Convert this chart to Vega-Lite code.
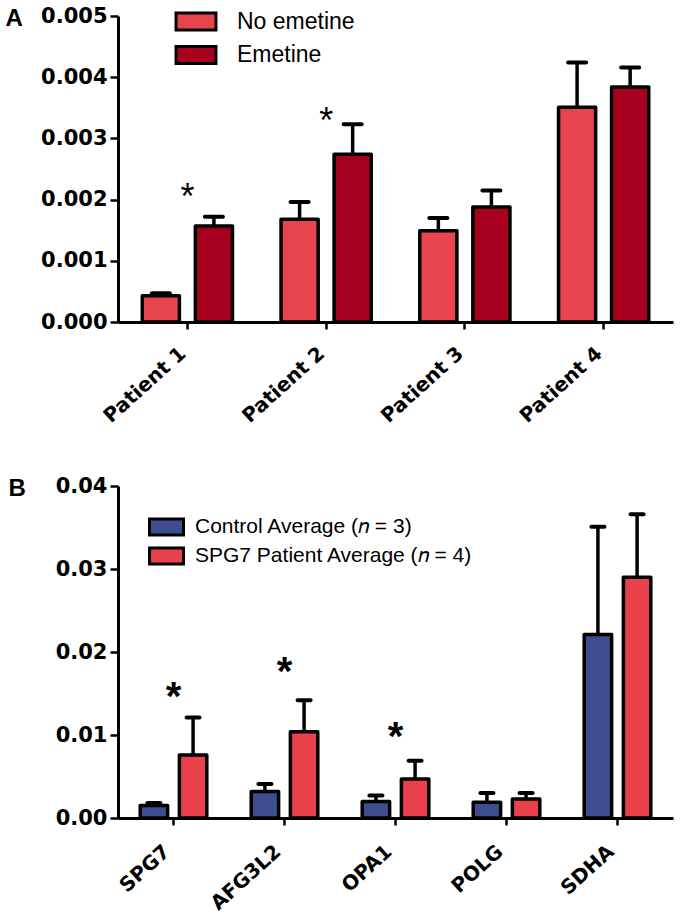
{
  "$schema": "https://vega.github.io/schema/vega-lite/v6.json",
  "padding": {"left": 5, "top": 5, "right": 5, "bottom": 5},
  "background": "white",
  "config": {
    "view": {"stroke": null},
    "axis": {"domainColor": "black", "domainWidth": 3, "tickColor": "black", "tickWidth": 2.5, "tickSize": 8, "labelFont": "DejaVu Sans", "labelFontWeight": "bold", "labelFontSize": 21, "labelColor": "black", "grid": false, "titleColor": "black"},
    "legend": {"title": null, "labelColor": "black", "labelFont": "Liberation Sans", "padding": 0, "labelLimit": 0, "symbolStrokeColor": "black", "symbolStrokeWidth": 3, "symbolOpacity": 1}
  },
  "datasets": {
    "a": [
      {"patient": "Patient 1", "treatment": "No emetine", "mean": 0.00043, "upper": 0.00047},
      {"patient": "Patient 1", "treatment": "Emetine", "mean": 0.00157, "upper": 0.00172},
      {"patient": "Patient 2", "treatment": "No emetine", "mean": 0.00168, "upper": 0.00196},
      {"patient": "Patient 2", "treatment": "Emetine", "mean": 0.00274, "upper": 0.00323},
      {"patient": "Patient 3", "treatment": "No emetine", "mean": 0.00149, "upper": 0.00170},
      {"patient": "Patient 3", "treatment": "Emetine", "mean": 0.00188, "upper": 0.00215},
      {"patient": "Patient 4", "treatment": "No emetine", "mean": 0.00351, "upper": 0.00424},
      {"patient": "Patient 4", "treatment": "Emetine", "mean": 0.00384, "upper": 0.00416}
    ],
    "astA": [
      {"patient": "Patient 1", "y": 0.00216, "mark": "*"},
      {"patient": "Patient 2", "y": 0.0034, "mark": "*"}
    ],
    "b": [
      {"gene": "SPG7", "group": "Control Average (𝑛 = 3)", "mean": 0.0015, "upper": 0.0018},
      {"gene": "SPG7", "group": "SPG7 Patient Average (𝑛 = 4)", "mean": 0.0076, "upper": 0.0121},
      {"gene": "AFG3L2", "group": "Control Average (𝑛 = 3)", "mean": 0.0032, "upper": 0.0041},
      {"gene": "AFG3L2", "group": "SPG7 Patient Average (𝑛 = 4)", "mean": 0.0104, "upper": 0.0142},
      {"gene": "OPA1", "group": "Control Average (𝑛 = 3)", "mean": 0.0020, "upper": 0.0027},
      {"gene": "OPA1", "group": "SPG7 Patient Average (𝑛 = 4)", "mean": 0.0047, "upper": 0.0069},
      {"gene": "POLG", "group": "Control Average (𝑛 = 3)", "mean": 0.0019, "upper": 0.0030},
      {"gene": "POLG", "group": "SPG7 Patient Average (𝑛 = 4)", "mean": 0.0023, "upper": 0.0030},
      {"gene": "SDHA", "group": "Control Average (𝑛 = 3)", "mean": 0.0221, "upper": 0.0351},
      {"gene": "SDHA", "group": "SPG7 Patient Average (𝑛 = 4)", "mean": 0.0290, "upper": 0.0366}
    ],
    "astB": [
      {"gene": "SPG7", "y": 0.0155, "mark": "*"},
      {"gene": "AFG3L2", "y": 0.0185, "mark": "*"},
      {"gene": "OPA1", "y": 0.0107, "mark": "*"}
    ]
  },
  "vconcat": [
    {
      "width": 555,
      "height": 306,
      "encoding": {
        "x": {"field": "patient", "type": "nominal", "sort": ["Patient 1", "Patient 2", "Patient 3", "Patient 4"],
              "scale": {"paddingInner": 0.35, "paddingOuter": 0.175},
              "axis": {"title": null, "labelAngle": -42, "labelAlign": "right", "labelBaseline": "top", "labelFontSize": 20, "tickSize": 7, "labelPadding": 14, "labelOffset": -11}}
      },
      "layer": [
        {
          "data": {"name": "a"},
          "mark": {"type": "rule", "color": "black", "strokeWidth": 3.5},
          "encoding": {
            "xOffset": {"field": "treatment", "type": "nominal", "sort": ["No emetine", "Emetine"], "scale": {"paddingInner": 0.3}},
            "y": {"field": "mean", "type": "quantitative"},
            "y2": {"field": "upper"}
          }
        },
        {
          "data": {"name": "a"},
          "mark": {"type": "tick", "color": "black", "thickness": 4, "size": 22, "cornerRadius": 2, "opacity": 1},
          "encoding": {
            "xOffset": {"field": "treatment", "type": "nominal", "sort": ["No emetine", "Emetine"], "scale": {"paddingInner": 0.3}},
            "y": {"field": "upper", "type": "quantitative"}
          }
        },
        {
          "data": {"name": "a"},
          "mark": {"type": "bar", "stroke": "black", "strokeWidth": 3.5, "strokeJoin": "round"},
          "encoding": {
            "xOffset": {"field": "treatment", "type": "nominal", "sort": ["No emetine", "Emetine"], "scale": {"paddingInner": 0.3}},
            "y": {"field": "mean", "type": "quantitative",
                  "scale": {"domain": [0, 0.005], "nice": false},
                  "axis": {"values": [0, 0.001, 0.002, 0.003, 0.004, 0.005], "format": ".3f", "labelPadding": 3,
                           "title": "A", "titleAngle": 0, "titleX": -113, "titleY": 2, "titleAlign": "left", "titleBaseline": "middle",
                           "titleFont": "Liberation Sans", "titleFontWeight": "bold", "titleFontSize": 24}},
            "color": {"field": "treatment", "type": "nominal",
                      "scale": {"domain": ["No emetine", "Emetine"], "range": ["#E8444E", "#A8001F"]},
                      "legend": {"orient": "none", "legendX": 66.5, "legendY": -6, "labelFontSize": 23, "labelOffset": 29.5, "rowPadding": 4.5,
                                 "symbolType": "M-2.35,-1H2.35V1H-2.35Z", "symbolSize": 289}}
          }
        },
        {
          "data": {"name": "astA"},
          "mark": {"type": "text", "font": "Liberation Sans", "fontSize": 36, "color": "black", "baseline": "middle", "dy": 8},
          "encoding": {
            "y": {"field": "y", "type": "quantitative"},
            "text": {"field": "mark"}
          }
        }
      ]
    },
    {
      "width": 555,
      "height": 332,
      "encoding": {
        "x": {"field": "gene", "type": "nominal", "sort": ["SPG7", "AFG3L2", "OPA1", "POLG", "SDHA"],
              "scale": {"paddingInner": 0.4, "paddingOuter": 0.2},
              "axis": {"title": null, "labelAngle": -42, "labelAlign": "right", "labelBaseline": "top", "labelFontSize": 20, "tickSize": 7, "labelPadding": 16, "labelOffset": -13}}
      },
      "layer": [
        {
          "data": {"name": "b"},
          "mark": {"type": "rule", "color": "black", "strokeWidth": 3.5},
          "encoding": {
            "xOffset": {"field": "group", "type": "nominal", "sort": ["Control Average (𝑛 = 3)", "SPG7 Patient Average (𝑛 = 4)"], "scale": {"paddingInner": 0.3}},
            "y": {"field": "mean", "type": "quantitative"},
            "y2": {"field": "upper"}
          }
        },
        {
          "data": {"name": "b"},
          "mark": {"type": "tick", "color": "black", "thickness": 4, "size": 17, "cornerRadius": 2, "opacity": 1},
          "encoding": {
            "xOffset": {"field": "group", "type": "nominal", "sort": ["Control Average (𝑛 = 3)", "SPG7 Patient Average (𝑛 = 4)"], "scale": {"paddingInner": 0.3}},
            "y": {"field": "upper", "type": "quantitative"}
          }
        },
        {
          "data": {"name": "b"},
          "mark": {"type": "bar", "stroke": "black", "strokeWidth": 3.5, "strokeJoin": "round"},
          "encoding": {
            "xOffset": {"field": "group", "type": "nominal", "sort": ["Control Average (𝑛 = 3)", "SPG7 Patient Average (𝑛 = 4)"], "scale": {"paddingInner": 0.3}},
            "y": {"field": "mean", "type": "quantitative",
                  "scale": {"domain": [0, 0.04], "nice": false},
                  "axis": {"values": [0, 0.01, 0.02, 0.03, 0.04], "format": ".2f", "labelPadding": 3,
                           "title": "B", "titleAngle": 0, "titleX": -110, "titleY": 2, "titleAlign": "left", "titleBaseline": "middle",
                           "titleFont": "Liberation Sans", "titleFontWeight": "bold", "titleFontSize": 24}},
            "color": {"field": "group", "type": "nominal",
                      "scale": {"domain": ["Control Average (𝑛 = 3)", "SPG7 Patient Average (𝑛 = 4)"], "range": ["#3E4D8D", "#E8414B"]},
                      "legend": {"orient": "none", "legendX": 38, "legendY": 30.5, "labelFontSize": 21, "labelOffset": 18, "rowPadding": 0,
                                 "symbolType": "M-2.125,-1H2.125V1H-2.125Z", "symbolSize": 256}}
          }
        },
        {
          "data": {"name": "astB"},
          "mark": {"type": "text", "font": "Liberation Sans", "fontWeight": "bold", "fontSize": 40, "color": "black", "baseline": "middle", "dy": 9},
          "encoding": {
            "y": {"field": "y", "type": "quantitative"},
            "text": {"field": "mark"}
          }
        }
      ]
    }
  ],
  "spacing": 164,
  "bounds": "flush",
  "resolve": {"scale": {"color": "independent", "x": "independent", "y": "independent", "xOffset": "independent"}, "legend": {"color": "independent"}}
}
